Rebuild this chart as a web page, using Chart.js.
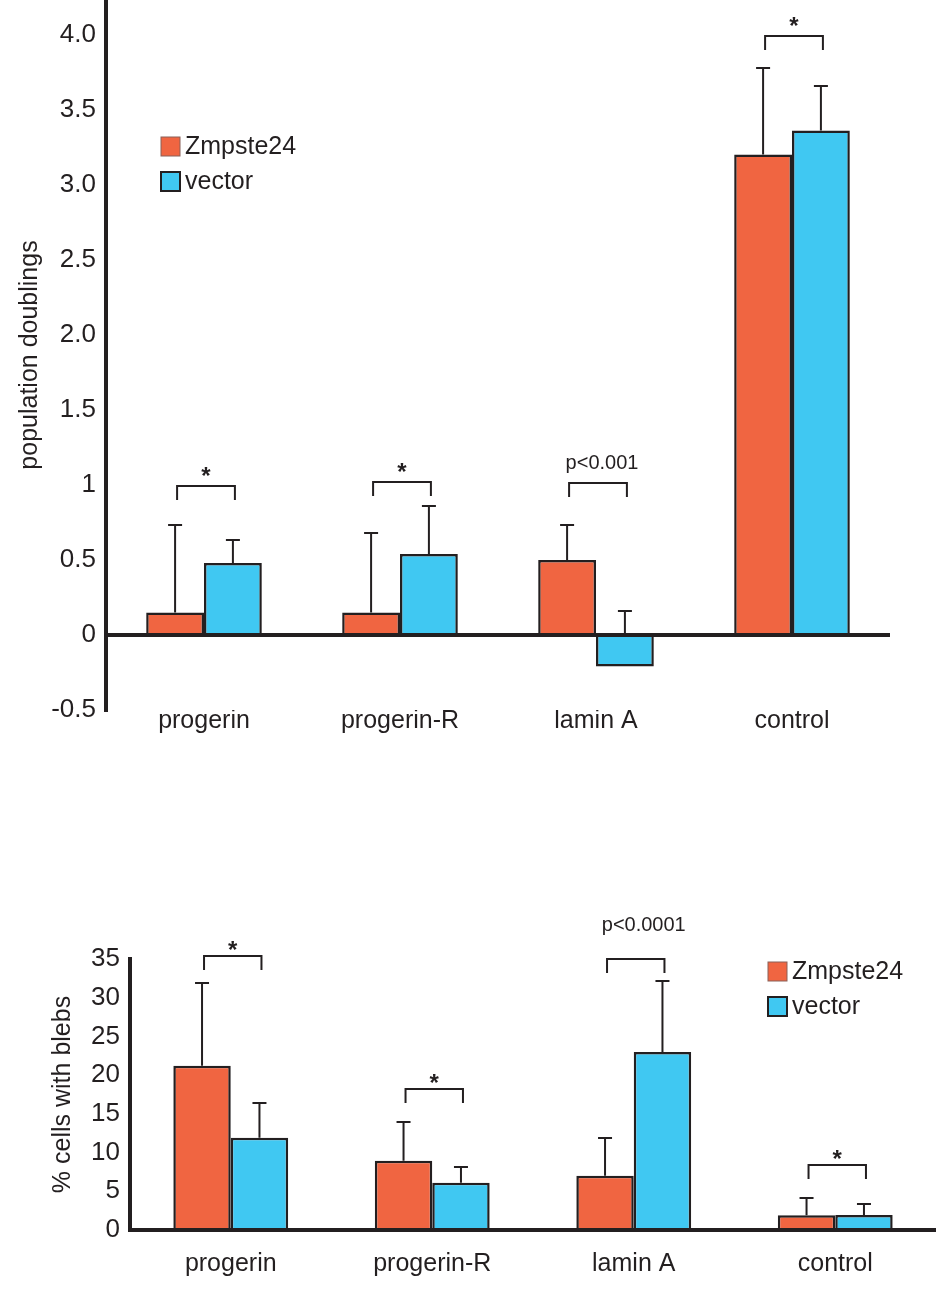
<!DOCTYPE html>
<html>
<head>
<meta charset="utf-8">
<script src="https://cdn.jsdelivr.net/npm/chart.js@4.4.1/dist/chart.umd.min.js"></script>
<style>
  html, body { margin: 0; padding: 0; background: #fff; }
  #wrap { position: relative; width: 936px; height: 1293px; }
  .box { position: absolute; left: 0; width: 936px; }
  #topBox { top: 0; height: 760px; }
  #bottomBox { top: 880px; height: 413px; }
</style>
</head>
<body>
<div id="wrap">
  <div class="box" id="topBox"><canvas id="doublingsChart"></canvas></div>
  <div class="box" id="bottomBox"><canvas id="blebsChart"></canvas></div>
</div>
<script>
// Categories shared by both panels
const categories = ['progerin', 'progerin-R', 'lamin A', 'control'];
const seriesNames = ['Zmpste24', 'vector'];

// Top panel: population doublings
const doublingsZmpste24 = [0.15, 0.15, 0.50, 3.20];
const doublingsVector = [0.48, 0.54, -0.21, 3.36];
const doublingsZmpste24Err = [0.58, 0.53, 0.23, 0.58];
const doublingsVectorErr = [0.15, 0.32, 0.37, 0.30];
const doublingsBracketAt = [0.99, 1.02, 1.015, 3.99];
const doublingsBracketText = ['*', '*', 'p<0.001', '*'];
const doublingsTickValues = [-0.5, 0, 0.5, 1, 1.5, 2, 2.5, 3, 3.5, 4];
const doublingsTickLabels = ['-0.5', '0', '0.5', '1', '1.5', '2.0', '2.5', '3.0', '3.5', '4.0'];

// Bottom panel: % cells with blebs
const blebsZmpste24 = [21.2, 8.95, 7.0, 1.9];
const blebsVector = [11.9, 6.1, 23.0, 1.95];
const blebsZmpste24Err = [10.7, 5.05, 4.9, 2.2];
const blebsVectorErr = [4.5, 2.0, 9.2, 1.4];
const blebsBracketAt = [35.4, 18.2, 35.0, 8.35];
const blebsBracketText = ['*', '*', 'p<0.0001', '*'];
const blebsTickValues = [0, 5, 10, 15, 20, 25, 30, 35];
const blebsTickLabels = ['0', '5', '10', '15', '20', '25', '30', '35'];

const INK = '#231f20';
const ORANGE = '#f06541';
const BLUE = '#40c8f2';
const FONT = '"Liberation Sans", Arial, sans-serif';

// Error bars, significance brackets and the boxed legend
const figureMarks = {
    id: 'figureMarks',
    afterDatasetsDraw(chart, args, opts) {
        const ctx = chart.ctx;
        const yScale = chart.scales.y;
        ctx.save();
        ctx.strokeStyle = INK;
        ctx.fillStyle = INK;
        ctx.lineWidth = 2;

        // error bars (upper only)
        opts.errors.forEach((errs, di) => {
            const meta = chart.getDatasetMeta(di);
            const vals = chart.data.datasets[di].data;
            meta.data.forEach((bar, i) => {
                const y0 = yScale.getPixelForValue(Math.max(vals[i], 0));
                const y1 = Math.round(yScale.getPixelForValue(vals[i] + errs[i]));
                ctx.beginPath();
                ctx.moveTo(bar.x, y0);
                ctx.lineTo(bar.x, y1);
                ctx.moveTo(bar.x - 7, y1);
                ctx.lineTo(bar.x + 7, y1);
                ctx.stroke();
            });
        });

        // brackets
        const left = chart.getDatasetMeta(0).data;
        const right = chart.getDatasetMeta(1).data;
        opts.brackets.forEach((v, i) => {
            const y = Math.round(yScale.getPixelForValue(v));
            const x0 = left[i].x + 2, x1 = right[i].x + 2;
            ctx.beginPath();
            ctx.moveTo(x0, y + 14);
            ctx.lineTo(x0, y);
            ctx.lineTo(x1, y);
            ctx.lineTo(x1, y + 14);
            ctx.stroke();
            const label = opts.bracketText[i];
            ctx.textAlign = 'center';
            ctx.textBaseline = 'middle';
            if (label === '*') {
                ctx.font = 'bold 24px ' + FONT;
                ctx.fillText(label, (x0 + x1) / 2, y - opts.starOffset);
            } else {
                ctx.font = '20px ' + FONT;
                ctx.fillText(label, (x0 + x1) / 2 + opts.textShift, y - opts.textOffset);
            }
        });

        // legend
        const lx = chart.chartArea.left + opts.legend.x;
        const ly = chart.chartArea.top + opts.legend.y;
        ctx.font = '25px ' + FONT;
        ctx.textAlign = 'left';
        ctx.textBaseline = 'middle';
        chart.data.datasets.forEach((ds, i) => {
            const sy = ly + i * 35;
            ctx.fillStyle = ds.backgroundColor;
            ctx.fillRect(lx, sy, 19, 19);
            ctx.lineWidth = i === 0 ? 1 : 2;
            ctx.strokeStyle = i === 0 ? '#8a6058' : INK;
            ctx.strokeRect(lx, sy, 19, 19);
            ctx.fillStyle = INK;
            ctx.fillText(ds.label, lx + 24, sy + 10);
        });
        ctx.restore();
    }
};

function buildChart(canvasId, cfg) {
    const ctx = document.getElementById(canvasId).getContext('2d');
    return new Chart(ctx, {
        type: 'bar',
        data: {
            labels: categories,
            datasets: [{
                label: seriesNames[0],
                data: cfg.zmpste24,
                backgroundColor: ORANGE,
                borderColor: INK,
                borderWidth: 2.5
            }, {
                label: seriesNames[1],
                data: cfg.vector,
                backgroundColor: BLUE,
                borderColor: INK,
                borderWidth: 2.5
            }]
        },
        options: {
            responsive: true,
            maintainAspectRatio: false,
            animation: false,
            devicePixelRatio: 1,
            layout: { padding: cfg.padding },
            datasets: {
                bar: { categoryPercentage: cfg.groupWidth, barPercentage: 1 }
            },
            scales: {
                x: {
                    afterFit: function(scale) {
                        scale.height = cfg.xHeight;
                        scale.paddingLeft = 0;
                        scale.paddingRight = 0;
                    },
                    grid: { display: false, drawTicks: false },
                    border: { display: false },
                    ticks: {
                        padding: cfg.xPad,
                        color: INK,
                        font: { family: FONT, size: 25 }
                    }
                },
                y: {
                    min: cfg.min,
                    max: cfg.max,
                    afterBuildTicks: function(scale) {
                        scale.ticks = cfg.tickValues.map(v => ({ value: v }));
                    },
                    afterFit: function(scale) {
                        scale.width = cfg.yWidth;
                        scale.paddingTop = 0;
                        scale.paddingBottom = 0;
                    },
                    ticks: {
                        padding: 10,
                        color: INK,
                        font: { family: FONT, size: 26 },
                        callback: function(value) {
                            return cfg.tickLabels[cfg.tickValues.indexOf(value)];
                        }
                    },
                    grid: {
                        drawTicks: false,
                        lineWidth: 4,
                        color: function(c) {
                            return c.tick && c.tick.value === 0 ? INK : 'rgba(0,0,0,0)';
                        }
                    },
                    border: { display: true, color: INK, width: 4 },
                    title: {
                        display: true,
                        text: cfg.title,
                        color: INK,
                        font: { family: FONT, size: 25 },
                        padding: { top: cfg.titlePad, bottom: 0 }
                    }
                }
            },
            plugins: {
                legend: { display: false },
                tooltip: { enabled: false },
                figureMarks: {
                    errors: [cfg.zmpste24Err, cfg.vectorErr],
                    brackets: cfg.brackets,
                    bracketText: cfg.bracketText,
                    starOffset: cfg.starOffset,
                    textOffset: cfg.textOffset,
                    textShift: cfg.textShift,
                    legend: cfg.legend
                }
            }
        },
        plugins: [figureMarks]
    });
}

buildChart('doublingsChart', {
    zmpste24: doublingsZmpste24,
    vector: doublingsVector,
    zmpste24Err: doublingsZmpste24Err,
    vectorErr: doublingsVectorErr,
    brackets: doublingsBracketAt,
    bracketText: doublingsBracketText,
    tickValues: doublingsTickValues,
    tickLabels: doublingsTickLabels,
    min: -0.5,
    max: 4.23,
    title: 'population doublings',
    titlePad: 15,
    padding: { top: 0, right: 46, bottom: 0, left: 0 },
    groupWidth: 0.59,
    xHeight: 50,
    xPad: -4,
    yWidth: 106,
    starOffset: 9,
    textOffset: 20,
    textShift: 4,
    legend: { x: 55, y: 137 }
});

buildChart('blebsChart', {
    zmpste24: blebsZmpste24,
    vector: blebsVector,
    zmpste24Err: blebsZmpste24Err,
    vectorErr: blebsVectorErr,
    brackets: blebsBracketAt,
    bracketText: blebsBracketText,
    tickValues: blebsTickValues,
    tickLabels: blebsTickLabels,
    min: 0,
    max: 35,
    title: '% cells with blebs',
    titlePad: 48,
    padding: { top: 79, right: 0, bottom: 0, left: 0 },
    groupWidth: 0.57,
    xHeight: 63,
    xPad: 19,
    yWidth: 130,
    starOffset: 5,
    textOffset: 34,
    textShift: 8,
    legend: { x: 638, y: 3 }
});
</script>
</body>
</html>
